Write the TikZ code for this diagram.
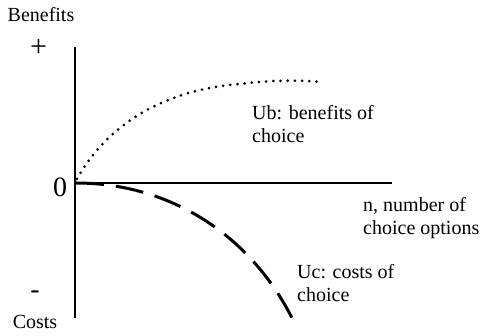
\documentclass[tikz,border=0pt]{standalone}
\usepackage{fontspec}
\setmainfont{Liberation Serif}
\begin{document}
\begin{tikzpicture}[x=1pt,y=-1pt,
  lbl/.style={inner sep=0pt,font=\fontsize{20}{23}\selectfont},
  multi/.style={lbl,align=left,anchor=west},
  axis/.style={line width=1.4pt},
  benefit/.style={line width=3pt,line cap=round,dash pattern=on 0pt off 7.2pt},
  cost/.style={line width=3pt,dash pattern=on 28pt off 12pt}]
\useasboundingbox (0,0) rectangle (483,336);
\coordinate (ytop) at (75,47);
\coordinate (ybot) at (75,318);
\coordinate (origin) at (75,183);
\coordinate (xend) at (392,183);
\draw[axis] (ytop) -- (ybot);
\draw[axis] (origin) -- (xend);
\coordinate (bstart) at (77,179);
\coordinate (bmid) at (240,84);
\coordinate (bend) at (322,82);
\draw[benefit] (bstart) .. controls (105,128) and (160,90) .. (bmid) .. controls (270,80) and (300,80) .. (bend);
\coordinate (cstart) at (76,183);
\coordinate (cend) at (292,318);
\draw[cost] (cstart) .. controls (170,183) and (250,235) .. (cend);
\node[lbl] (benefits) at (41,15) {Benefits};
\node[lbl,font=\fontsize{30}{32}\selectfont] (plus) at (38.5,48) {+};
\node[lbl,font=\fontsize{28}{30}\selectfont] (zero) at (60,187) {0};
\node[lbl,font=\fontsize{28}{30}\selectfont] (minus) at (35,295) {-};
\node[lbl] (costs) at (35,322) {Costs};
\node[multi] (ub) at (252,124) {Ub: benefits of\\choice};
\node[multi] (nlab) at (363,218.5) {n, number of\\choice options};
\node[multi] (uc) at (297,283) {Uc: costs of\\choice};
\end{tikzpicture}
\end{document}
